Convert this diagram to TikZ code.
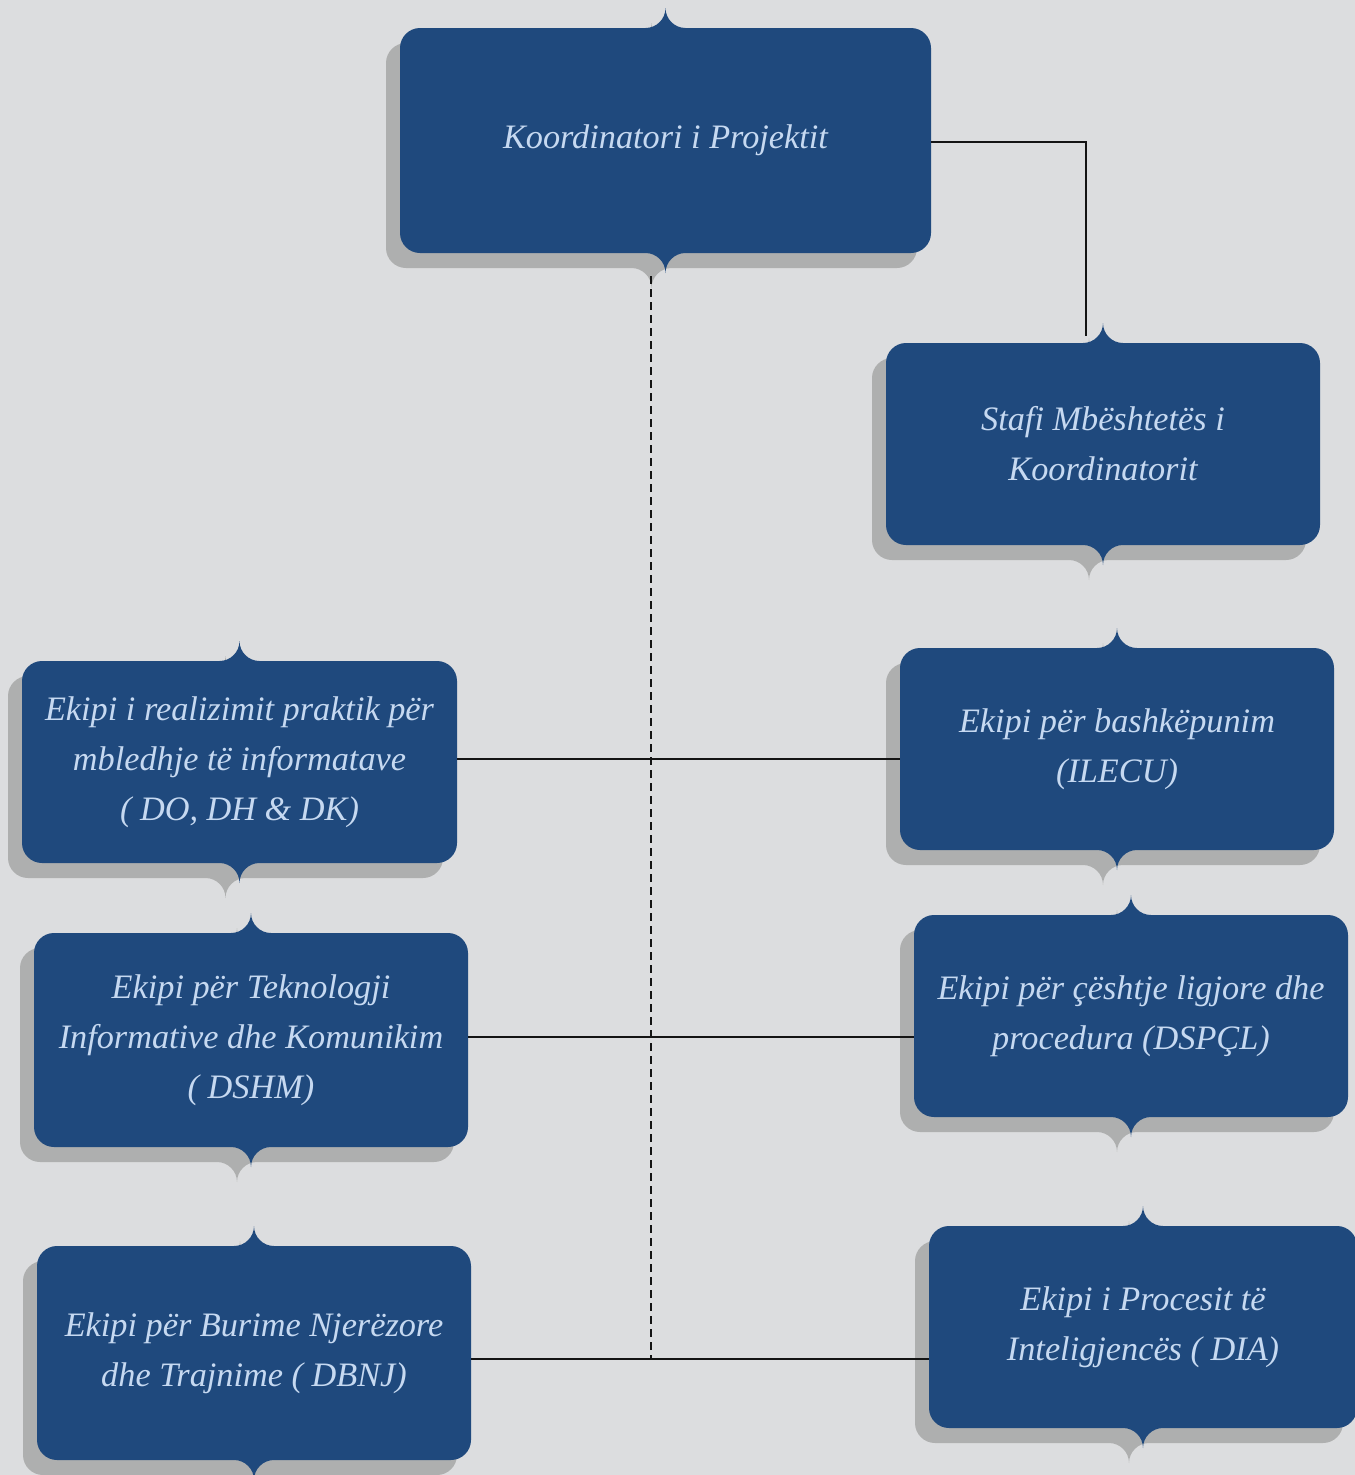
\documentclass[tikz,border=0pt]{standalone}
\usepackage{fontspec}
\setmainfont{Liberation Serif}
\definecolor{bgc}{HTML}{DCDDDF}
\definecolor{boxc}{HTML}{1F497D}
\definecolor{shadowc}{HTML}{AEAFAF}
\definecolor{txtc}{HTML}{C6D9F1}
\definecolor{linec}{HTML}{141414}
\tikzset{
  x=0.75pt, y=-0.75pt,
  txt/.style={text=txtc, inner sep=0pt, align=center,
    font=\itshape\fontsize{25.7}{37.5}\selectfont},
  conn/.style={draw=linec, line width=1.3pt},
  dashconn/.style={draw=linec, line width=1pt, dash pattern=on 6pt off 3.75pt},
}
% #1 colour, #2 cx, #3 cy, #4 half width, #5 half height (px)
\newcommand\cuspfill[5]{%
  \fill[#1, shift={(#2,#3)}]
    (-#4+20,-#5) -- (-20,-#5)
    .. controls (-9,-#5) and (0,-#5-9) .. (0,-#5-20)
    .. controls (0,-#5-9) and (9,-#5) .. (20,-#5)
    -- (#4-20,-#5)
    .. controls (#4-9,-#5) and (#4,-#5+9) .. (#4,-#5+20)
    -- (#4,#5-20)
    .. controls (#4,#5-9) and (#4-9,#5) .. (#4-20,#5)
    -- (20,#5)
    .. controls (9,#5) and (0,#5+9) .. (0,#5+20)
    .. controls (0,#5+9) and (-9,#5) .. (-20,#5)
    -- (-#4+20,#5)
    .. controls (-#4+9,#5) and (-#4,#5-9) .. (-#4,#5-20)
    -- (-#4,-#5+20)
    .. controls (-#4,-#5+9) and (-#4+9,-#5) .. (-#4+20,-#5)
    -- cycle;}
% #1 name, #2 cx, #3 cy, #4 hw, #5 hh, #6 text
\newcommand\orgbox[6]{%
  \cuspfill{shadowc}{#2-14}{#3+15}{#4}{#5}%
  \cuspfill{boxc}{#2}{#3}{#4}{#5}%
  \node[txt, minimum width={1.5*#4 pt}, minimum height={1.5*#5 pt}] (#1) at (#2,#3) {#6};}
\begin{document}
\begin{tikzpicture}
\fill[bgc] (0,0) rectangle (1355,1475);
\useasboundingbox (0,0) rectangle (1355,1475);
\clip (0,0) rectangle (1355,1475);

\orgbox{k}{665.5}{140.5}{265.5}{112.5}{Koordinatori i Projektit}
\orgbox{s}{1103}{444}{217}{101}{Stafi Mbështetës i\\Koordinatorit}
\orgbox{l1}{239.5}{762}{217.5}{101}{Ekipi i realizimit praktik për\\mbledhje të informatave\\( DO, DH \& DK)}
\orgbox{r1}{1117}{749}{217}{101}{Ekipi për bashkëpunim\\(ILECU)}
\orgbox{l2}{251}{1040}{217}{107}{Ekipi për Teknologji\\Informative dhe Komunikim\\( DSHM)}
\orgbox{r2}{1131}{1016}{217}{101}{Ekipi për çështje ligjore dhe\\procedura (DSPÇL)}
\orgbox{l3}{254}{1353}{217}{107}{Ekipi për Burime Njerëzore\\dhe Trajnime ( DBNJ)}
\orgbox{r3}{1143}{1327}{214}{101}{Ekipi i Procesit të\\Inteligjencës ( DIA)}

\coordinate (sc) at (1086,336);
\coordinate (dtop) at (651,276);
\coordinate (dbot) at (651,1359);

\draw[conn] (k.east |- 0,142) -| (sc);
\draw[dashconn] (dtop) -- (dbot);
\draw[conn] (l1.east |- 0,759) -- (r1.west |- 0,759);
\draw[conn] (l2.east |- 0,1037) -- (r2.west |- 0,1037);
\draw[conn] (l3.east |- 0,1359) -- (r3.west |- 0,1359);
\end{tikzpicture}
\end{document}
